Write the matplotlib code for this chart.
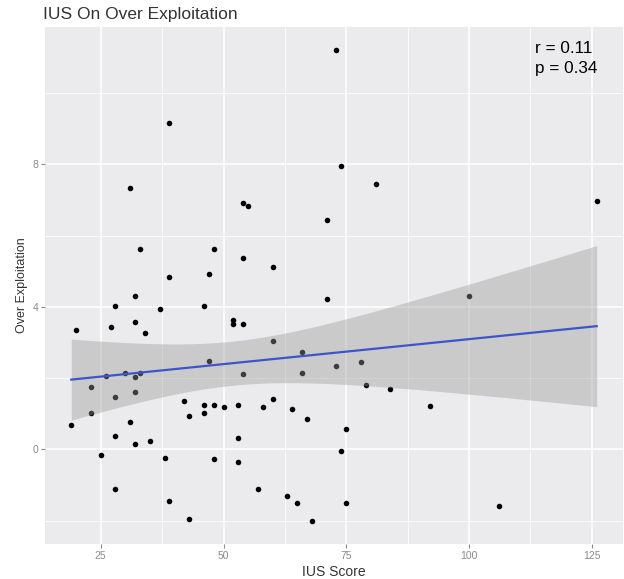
import numpy as np
import matplotlib
matplotlib.use("Agg")
import matplotlib.pyplot as plt
from matplotlib.ticker import MultipleLocator

# data
ius_score = [39, 31, 33, 39, 32, 73, 74, 54, 55, 71, 48, 47, 54, 60, 71, 81, 126, 100,
             28, 37, 20, 27, 32, 34, 26, 30, 32, 33, 23, 28, 32, 23, 19, 31, 28, 32,
             35, 25, 38, 42, 43, 28, 39, 43, 46, 52, 52, 54, 60, 47, 66, 54, 66, 73,
             46, 46, 48, 50, 53, 58, 60, 64, 67, 53, 48, 53, 57, 63, 65, 68, 74, 78,
             79, 84, 92, 75, 75, 106]
over_exploitation = [9.15, 7.35, 5.63, 4.83, 4.30, 11.2, 7.97, 6.92, 6.83, 6.44, 5.63, 4.93,
                     5.37, 5.12, 4.22, 7.45, 6.97, 4.30, 4.02, 3.95, 3.36, 3.44, 3.57, 3.26,
                     2.05, 2.15, 2.03, 2.14, 1.74, 1.48, 1.60, 1.02, 0.67, 0.78, 0.38, 0.14,
                     0.23, -0.15, -0.24, 1.36, 0.94, -1.12, -1.46, -1.97, 4.02, 3.64, 3.51,
                     3.52, 3.05, 2.48, 2.74, 2.11, 2.13, 2.33, 1.23, 1.02, 1.25, 1.19, 1.24,
                     1.20, 1.41, 1.14, 0.86, 0.32, -0.26, -0.35, -1.12, -1.31, -1.51, -2.00,
                     -0.04, 2.44, 1.80, 1.68, 1.22, 0.57, -1.52, -1.60]
stats_text = ["r = 0.11", "p = 0.34"]

x = np.array(ius_score, dtype=float)
y = np.array(over_exploitation, dtype=float)

# linear fit + 95% confidence band (like geom_smooth(method="lm"))
slope, intercept = np.polyfit(x, y, 1)
n = len(x)
resid = y - (slope * x + intercept)
s = np.sqrt(np.sum(resid ** 2) / (n - 2))
t_val = 1.992
xs = np.linspace(x.min(), x.max(), 100)
ys = slope * xs + intercept
se = s * np.sqrt(1 / n + (xs - x.mean()) ** 2 / np.sum((x - x.mean()) ** 2))

fig = plt.figure(figsize=(6.24, 5.79), dpi=100)
ax = fig.add_axes([45 / 624, 1 - 544 / 579, 578 / 624, 517 / 579])
plt.rcParams["font.family"] = ["Liberation Sans", "DejaVu Sans"]

ax.set_facecolor("#EBEBED")
ax.scatter(x, y, s=16, color="black", zorder=3, linewidths=0)
ax.fill_between(xs, ys - t_val * se, ys + t_val * se, color="#999999", alpha=0.4,
                linewidth=0, zorder=4)
ax.plot(xs, ys, color="#3D55C9", linewidth=1.6, zorder=5)
ax.margins(0.05)

ax.xaxis.set_major_locator(MultipleLocator(25))
ax.xaxis.set_minor_locator(MultipleLocator(12.5))
ax.yaxis.set_major_locator(MultipleLocator(4))
ax.yaxis.set_minor_locator(MultipleLocator(2))
ax.grid(which="major", color="white", linewidth=1.1)
ax.grid(which="minor", color="white", linewidth=0.55)
ax.set_axisbelow(True)
for sp in ax.spines.values():
    sp.set_visible(False)
ax.tick_params(which="major", length=3, width=0.8, color="#8A8A8A",
               labelcolor="#8A8A8A", labelsize=7.5, pad=2,
               labelfontfamily="Liberation Sans")
ax.tick_params(which="minor", length=0)

ax.set_xlabel("IUS Score", fontsize=10, family="Liberation Sans", color="#333333", labelpad=3)
ax.set_ylabel("Over Exploitation", fontsize=9, family="Liberation Sans", color="#333333", labelpad=3)

fig.text(43 / 624, 1 - 18.5 / 579, "IUS On Over Exploitation", fontsize=12.5,
         family="Liberation Sans", color="#333333", va="baseline")
fig.text(535 / 624, 1 - 52.7 / 579, stats_text[0], fontsize=12.3,
         family="Liberation Sans", color="black", va="baseline")
fig.text(535 / 624, 1 - 72.7 / 579, stats_text[1], fontsize=12.3,
         family="Liberation Sans", color="black", va="baseline")

fig.savefig("out.png", dpi=100)
